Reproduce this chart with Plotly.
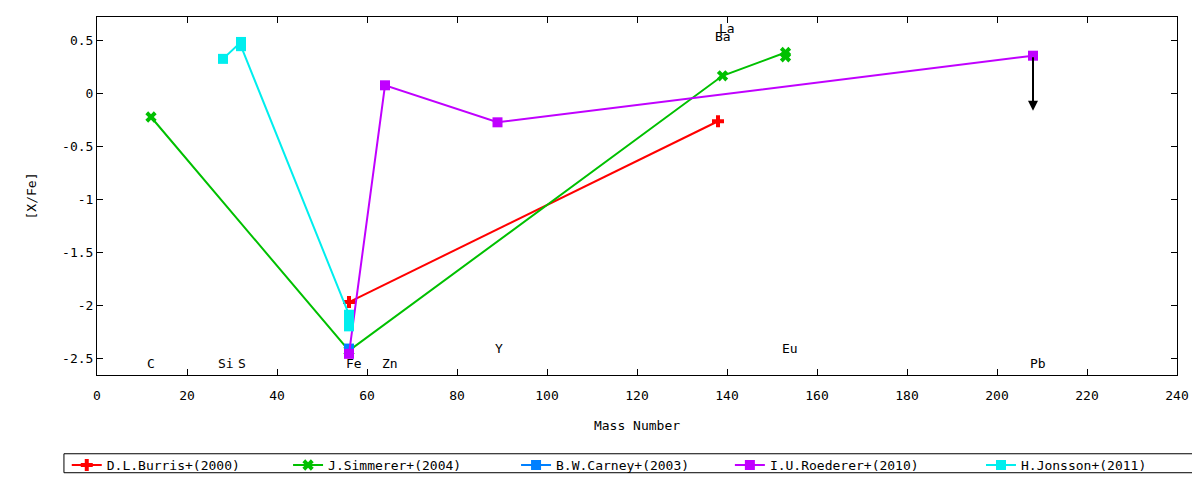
import plotly.graph_objects as go

# abundance ratios [X/Fe] vs mass number
burris_x = [56, 138]
burris_y = [-1.97, -0.26]
simmerer_x = [12, 56, 139, 153, 153]
simmerer_y = [-0.22, -2.43, 0.17, 0.39, 0.35]
carney_x = [56]
carney_y = [-2.41]
roederer_x = [56, 64, 89, 208]
roederer_y = [-2.46, 0.08, -0.27, 0.36]
jonsson_x = [28, 32, 32, 56, 56, 56]
jonsson_y = [0.33, 0.49, 0.45, -2.09, -2.14, -2.20]

# upper limit arrow for Pb (Roederer)
limit_x = 208
limit_top = 0.36
limit_bottom = -0.16

# element labels (positions as placed on the plot)
elem_names = ["C", "Si", "S", "Fe", "Zn", "Y", "Ba", "La", "Eu", "Pb"]
elem_x = [12, 28.6, 32.2, 57, 65, 89.3, 139, 140, 154, 209]
elem_y = [-2.55, -2.55, -2.55, -2.55, -2.55, -2.41, 0.54, 0.62, -2.41, -2.55]

# y tick labels (gnuplot style, plain hyphen)
y_ticks = [0.5, 0, -0.5, -1, -1.5, -2, -2.5]
y_tick_text = ["0.5", "0", "-0.5", "-1", "-1.5", "-2", "-2.5"]

FONT = "DejaVu Sans Mono"

series = [
    ("D.L.Burris+(2000)", burris_x, burris_y, "#ff0000", "cross"),
    ("J.Simmerer+(2004)", simmerer_x, simmerer_y, "#00c000", "x"),
    ("B.W.Carney+(2003)", carney_x, carney_y, "#0080ff", "square"),
    ("I.U.Roederer+(2010)", roederer_x, roederer_y, "#c000ff", "square"),
    ("H.Jonsson+(2011)", jonsson_x, jonsson_y, "#00eeee", "square"),
]
# one legend per entry so they sit where gnuplot put them
legend_x = [-0.028, 0.1769, 0.388, 0.586, 0.8185]

fig = go.Figure()
legends = {}
for i, (name, xs, ys, col, sym) in enumerate(series):
    key = f"legend{i + 2}"
    fig.add_trace(go.Scatter(
        x=xs, y=ys, name=name, mode="lines+markers", legend=key, showlegend=True,
        line=dict(color=col, width=2),
        marker=dict(color=col, symbol=sym, size=10, line=dict(width=0)),
    ))
    legends[key] = dict(x=legend_x[i], xanchor="left", y=-0.248, yanchor="middle",
                        borderwidth=0, bgcolor="rgba(0,0,0,0)",
                        font=dict(family=FONT, size=13, color="black"))

# Pb upper limit
fig.add_annotation(
    x=limit_x, y=limit_bottom, ax=limit_x, ay=limit_top,
    xref="x", yref="y", axref="x", ayref="y",
    showarrow=True, arrowhead=2, arrowsize=1, arrowwidth=2,
    arrowcolor="black", text="",
)

for n, ex, ey in zip(elem_names, elem_x, elem_y):
    fig.add_annotation(x=ex, y=ey, text=n, showarrow=False,
                       font=dict(family=FONT, size=13, color="black"))

# legend frame (gnuplot style, runs off the right edge)
fig.add_shape(type="rect", xref="paper", yref="paper",
              x0=-0.0306, x1=1.04, y0=-0.273, y1=-0.22,
              line=dict(color="black", width=1))

axis_common = dict(
    showline=True, linecolor="black", linewidth=1, mirror="ticks",
    ticks="inside", ticklen=6, tickcolor="black", showgrid=False,
    zeroline=False, automargin=False,
    tickfont=dict(family=FONT, size=13, color="black"),
)

fig.update_layout(
    width=1200, height=480,
    margin=dict(l=89, r=31, t=9, b=112),
    plot_bgcolor="white", paper_bgcolor="white",
    font=dict(family=FONT, size=13, color="black"),
    xaxis=dict(range=[0, 240], dtick=20, ticklabelstandoff=8,
               title=dict(text="Mass Number", standoff=19, font=dict(size=13)),
               **axis_common),
    yaxis=dict(range=[-2.66, 0.726], tickvals=y_ticks, ticktext=y_tick_text,
               ticklabelstandoff=0,
               title=dict(text="[X/Fe]", standoff=22, font=dict(size=13)),
               **axis_common),
    **legends,
)

fig.write_html("out.html")
